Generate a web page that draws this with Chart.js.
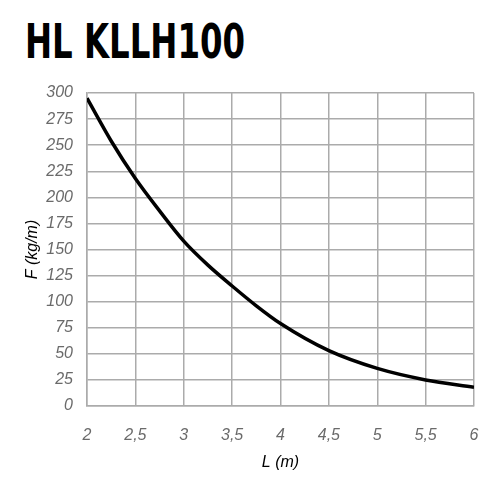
<!DOCTYPE html>
<html>
<head>
<meta charset="utf-8">
<script src="https://cdn.jsdelivr.net/npm/chart.js@4/dist/chart.umd.min.js"></script>
<style>
html,body{margin:0;padding:0;background:#fff;}
#wrap{position:relative;width:500px;height:494px;}
#title{position:absolute;left:25px;top:13px;font-family:"DejaVu Sans Condensed","Liberation Sans",sans-serif;font-weight:bold;font-size:48px;line-height:56px;color:#000;white-space:nowrap;transform-origin:0 0;}
canvas{position:absolute;left:0;top:0;}
</style>
</head>
<body>
<div id="wrap">
<div id="title">HL KLLH100</div>
<canvas id="c" width="500" height="494"></canvas>
</div>
<script>
const lengths = [2, 2.25, 2.5, 2.75, 3, 3.25, 3.5, 3.75, 4, 4.5, 5, 5.5, 6];
const loads = [295, 254, 218, 187, 158, 135, 115, 96, 79, 53, 36, 25, 18];
const xTitle = "L (m)";
const yTitle = "F (kg/m)";

const t = document.getElementById('title');
const w = t.getBoundingClientRect().width;
t.style.transform = 'scaleX(' + (220 / w) + ')';

const tickFont = {family: "Liberation Sans, Arial, sans-serif", size: 16, style: "italic"};
const gridColor = "#ababab";

new Chart(document.getElementById('c'), {
  type: 'line',
  data: {
    datasets: [{
      data: lengths.map((x, i) => ({x: x, y: loads[i]})),
      borderColor: '#000',
      borderWidth: 3.5,
      pointRadius: 0,
      fill: false,
      cubicInterpolationMode: 'monotone'
    }]
  },
  options: {
    responsive: false,
    animation: false,
    devicePixelRatio: 1,
    layout: {padding: {left: 0, right: 26, top: 93, bottom: 0}},
    plugins: {legend: {display: false}, tooltip: {enabled: false}},
    scales: {
      x: {
        type: 'linear', min: 2, max: 6,
        afterFit: s => { s.height = 88; },
        grid: {color: gridColor, lineWidth: 1.5, drawTicks: false},
        border: {color: gridColor, width: 1.5},
        ticks: {stepSize: 0.5, padding: 20, color: '#6a6a6a', font: tickFont,
          callback: v => String(v).replace('.', ',')},
        title: {display: true, text: xTitle, color: '#000', font: tickFont, padding: {top: 0, bottom: 22}}
      },
      y: {
        min: 0, max: 300,
        afterFit: s => { s.width = 87; },
        grid: {color: gridColor, lineWidth: 1.5, drawTicks: false},
        border: {color: gridColor, width: 1.5},
        ticks: {stepSize: 25, padding: 14, color: '#6a6a6a', font: tickFont},
        title: {display: true, text: yTitle, color: '#000', font: tickFont, padding: {top: 23, bottom: 0}}
      }
    }
  }
});
</script>
</body>
</html>
